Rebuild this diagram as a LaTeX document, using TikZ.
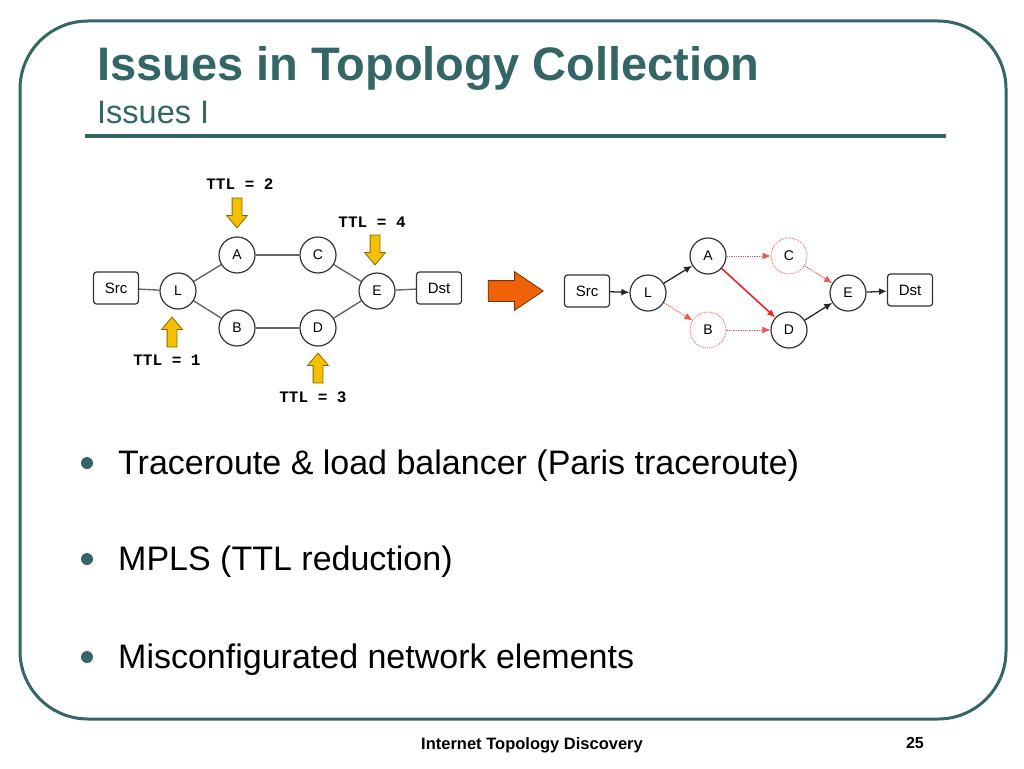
\documentclass[tikz,border=0pt]{standalone}
\usepackage{fontspec}
\setmainfont{Liberation Sans}
\newfontfamily\ttlfont{Liberation Mono}
\usepackage{xcolor}
\usetikzlibrary{arrows.meta,shapes.arrows}

\definecolor{slateteal}{RGB}{52,102,102}
\definecolor{ttlgold}{RGB}{245,192,0}
\definecolor{ttledge}{RGB}{140,105,0}
\definecolor{bigorange}{RGB}{240,98,10}
\definecolor{bigedge}{RGB}{120,50,0}
\definecolor{lossred}{RGB}{235,40,40}

\tikzset{
  router/.style={circle, draw=black!80, line width=1.2pt, fill=white, minimum size=36pt, inner sep=0pt, font=\fontsize{14}{14}\selectfont},
  host/.style={rectangle, rounded corners=3pt, draw=black!80, line width=1.2pt, fill=white, minimum width=45pt, minimum height=32pt, inner sep=0pt, font=\fontsize{15}{15}\selectfont},
  ghost/.style={router, draw=lossred!70, densely dotted, line width=0.8pt},
  link/.style={black!60, line width=1.4pt},
  hop/.style={-{Latex[length=8pt,width=7pt]}, draw=black!85, line width=1.3pt},
  lost/.style={hop, draw=lossred!80, densely dotted, line width=0.9pt},
  rerouted/.style={hop, draw=lossred, line width=1.6pt},
  ttlarrow/.style={single arrow, draw=ttledge, line width=0.8pt, fill=ttlgold, inner sep=4.5pt, minimum height=30pt, single arrow head extend=5.5pt, single arrow tip angle=80, single arrow head indent=0pt},
  ttllabel/.style={font=\ttlfont\bfseries\fontsize{16}{16}\selectfont, inner sep=0pt},
}

\begin{document}
\begin{tikzpicture}[x=1pt, y=-1pt]
\useasboundingbox (0,0) rectangle (1024,768);

% Slide frame
\draw[slateteal, line width=3pt, rounded corners=68pt] (20,21) rectangle (1006,719);

% Title and subtitle
\node[anchor=base west, inner sep=0pt, text=slateteal, font=\bfseries\fontsize{47}{47}\selectfont] (title) at (97,80) {Issues in Topology Collection};
\node[anchor=base west, inner sep=0pt, text=slateteal, font=\fontsize{32.5}{32.5}\selectfont] (subtitle) at (97,123.5) {Issues I};
\draw[slateteal, line width=4pt] (85,136) -- (946,136);

% Left: traceroute over a load balancer
\node[host] (lsrc) at (116,288) {Src};
\node[host] (ldst) at (439,288) {Dst};
\foreach \n/\x/\y in {L/178/291, A/237/255, C/318/255, B/237/328, D/318/328, E/377/291} {
    \node[router] (l\n) at (\x,\y) {\n};
}
\foreach \s/\t in {lsrc/lL, lL/lA, lL/lB, lA/lC, lB/lD, lC/lE, lD/lE, lE/ldst} {
    \draw[link] (\s) -- (\t);
}

% TTL probes
\node[ttlarrow, shape border rotate=90] (arr1) at (172,335) {};
\node[ttlarrow, shape border rotate=270] (arr2) at (237,210) {};
\node[ttlarrow, shape border rotate=90] (arr3) at (318,371) {};
\node[ttlarrow, shape border rotate=270] (arr4) at (375,247) {};
\node[ttllabel] (ttl1) at (167,360) {TTL = 1};
\node[ttllabel] (ttl2) at (240,184) {TTL = 2};
\node[ttllabel] (ttl3) at (313,397) {TTL = 3};
\node[ttllabel] (ttl4) at (372,222) {TTL = 4};

% Inferred path
\node[single arrow, draw=bigedge, line width=0.8pt, fill=bigorange, inner sep=10pt, minimum height=55pt, single arrow head extend=9pt, single arrow tip angle=68, single arrow head indent=0pt] (infer) at (508,291) {};

% Right: the path traceroute reports
\node[host] (rsrc) at (587,291) {Src};
\node[host] (rdst) at (910,290) {Dst};
\foreach \n/\x/\y in {L/648/293, A/708/256, D/789/330, E/848/293} {
    \node[router] (r\n) at (\x,\y) {\n};
}
\node[ghost] (rC) at (789,256) {C};
\node[ghost] (rB) at (708,330) {B};

\foreach \s/\t in {rsrc/rL, rL/rA, rD/rE, rE/rdst} {
    \draw[hop] (\s) -- (\t);
}
\foreach \s/\t in {rA/rC, rC/rE, rL/rB, rB/rD} {
    \draw[lost] (\s) -- (\t);
}
\draw[rerouted] (rA) -- (rD);

% Bullets
\foreach \i/\y/\txt in {1/474/{Traceroute \& load balancer (Paris traceroute)}, 2/570/{MPLS (TTL reduction)}, 3/668/{Misconfigurated network elements}} {
    \fill[slateteal] (87,\y-11) circle (6pt);
    \node[anchor=base west, inner sep=0pt, font=\fontsize{34}{34}\selectfont] (item\i) at (118,\y) {\txt};
}

% Footer
\node[anchor=base, inner sep=0pt, font=\bfseries\fontsize{16.5}{16.5}\selectfont] (footer) at (532,749) {Internet Topology Discovery};
\node[anchor=base east, inner sep=0pt, font=\bfseries\fontsize{16}{16}\selectfont] (pageno) at (924,748) {25};

\end{tikzpicture}
\end{document}
